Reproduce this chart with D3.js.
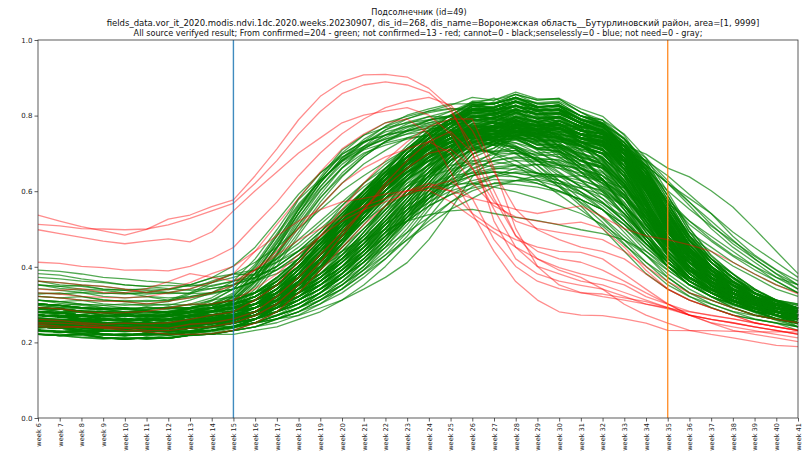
<!DOCTYPE html>
<html>
<head>
<meta charset="utf-8">
<script src="https://cdn.jsdelivr.net/npm/d3@7"></script>
<style>
  body { margin: 0; background: #fff; }
  svg { display: block; }
  text { font-family: "DejaVu Sans", sans-serif; }
</style>
</head>
<body>
<svg id="chart" width="806" height="452"></svg>
<script>
// Week categories along the x axis
const weeks = ["week 6","week 7","week 8","week 9","week 10","week 11","week 12","week 13","week 14","week 15",
  "week 16","week 17","week 18","week 19","week 20","week 21","week 22","week 23","week 24","week 25",
  "week 26","week 27","week 28","week 29","week 30","week 31","week 32","week 33","week 34","week 35",
  "week 36","week 37","week 38","week 39","week 40","week 41"];

const yTickValues = [0, 0.2, 0.4, 0.6, 0.8, 1.0];

const titleLines = [
  "Подсолнечник (id=49)",
  "fields_data.vor_it_2020.modis.ndvi.1dc.2020.weeks.20230907, dis_id=268, dis_name=Воронежская область__Бутурлиновский район, area=[1, 9999]",
  "All source verifyed result; From confirmed=204 - green; not confirmed=13 - red; cannot=0 - black;senselessly=0 - blue; not need=0 - gray;"
];
const titleCenters = [419, 433, 418];
const titleSizes = [8.15, 8.5, 8.15];

// Reference weeks marked with vertical lines
const markerWeeks = ["week 15", "week 35"];
const markerColors = ["#1f77b4", "#ff7f0e"];

// Weekly NDVI per field (values x1000), confirmed fields
const confirmedNdvi = [
[272,265,261,262,258,244,259,268,283,308,362,437,528,611,679,728,762,783,797,798,831,802,815,771,781,738,727,652,548,452,383,341,312,293,279,268],
[291,288,279,273,277,268,276,288,309,342,398,482,578,632,697,731,748,759,766,768,771,742,748,711,705,662,633,563,482,413,362,331,308,291,280,271],
[248,244,237,232,229,236,241,252,268,297,358,447,542,623,688,737,771,792,808,818,818,836,809,812,776,768,719,668,577,482,401,352,318,297,281,263],
[312,303,298,291,287,282,289,301,318,351,407,488,566,628,681,714,738,759,776,787,801,779,783,752,756,719,702,628,538,452,391,352,327,308,293,281],
[281,277,272,266,262,268,273,282,298,327,383,462,551,632,701,748,781,798,812,819,812,809,771,764,718,695,631,561,472,401,352,322,301,289,278,268],
[262,258,253,248,251,243,249,258,272,301,348,421,503,582,648,697,731,752,769,781,792,778,788,759,765,729,712,638,541,442,372,331,302,283,271,262],
[302,298,291,287,289,281,278,291,302,323,372,452,553,638,709,748,768,781,789,798,796,792,763,758,721,706,651,582,492,412,361,332,309,291,279,268],
[243,238,233,229,236,231,228,242,258,288,341,413,492,571,638,691,732,758,781,798,818,809,814,783,774,731,708,621,522,433,371,334,308,288,272,261],
[273,269,268,262,258,263,271,279,292,321,383,468,558,628,678,709,728,741,748,751,748,721,718,684,672,631,606,538,471,412,368,341,318,302,289,281],
[328,331,322,313,308,302,298,312,331,362,421,498,581,648,698,731,749,761,772,778,772,784,761,764,738,731,684,621,532,452,398,361,331,309,292,281],
[251,248,252,243,239,242,251,262,281,312,368,451,532,603,662,711,749,778,797,812,829,818,826,798,794,759,738,658,562,461,391,342,311,289,273,262],
[288,281,279,271,268,273,281,292,302,331,392,472,551,622,683,731,772,801,818,831,831,846,821,818,779,768,712,648,552,452,389,348,322,301,283,271],
[261,257,252,248,251,247,253,262,281,312,373,452,541,622,688,728,757,771,781,788,784,786,752,745,703,689,631,571,492,422,371,338,312,292,281,263],
[278,272,268,271,262,258,268,281,292,318,361,428,511,583,641,692,731,762,788,811,836,832,845,818,815,779,759,678,578,472,398,352,321,298,281,272],
[232,228,223,219,221,224,231,239,252,281,332,402,483,561,621,672,708,741,762,778,781,798,774,776,742,735,681,618,522,428,362,321,292,273,261,249],
[352,343,338,331,328,333,341,352,371,402,452,521,592,648,691,718,738,751,759,763,758,736,738,711,708,671,652,588,512,441,392,358,331,312,298,289],
[271,268,262,258,261,257,263,272,291,321,382,461,541,612,671,712,742,768,787,801,801,818,796,798,772,774,739,688,598,492,421,372,338,312,291,279],
[243,241,238,232,229,234,242,251,263,292,351,432,521,601,661,701,722,738,748,757,762,744,745,713,705,661,633,552,472,401,352,321,298,281,271,259],
[298,292,289,287,281,278,283,292,312,341,402,481,562,628,681,718,748,772,788,797,808,791,798,771,768,731,712,638,548,458,398,361,338,318,301,289],
[262,257,252,249,253,248,259,268,281,308,361,432,512,591,661,718,762,791,812,828,848,841,856,831,824,786,756,678,572,468,398,352,322,298,281,268],
[261,258,252,249,251,247,252,258,263,278,301,332,381,442,508,571,628,681,722,758,771,798,781,788,764,765,728,668,572,468,398,352,328,301,283,271],
[242,239,241,233,229,231,236,241,243,258,281,312,358,421,491,558,621,678,718,748,774,771,788,765,774,749,731,678,588,482,402,348,321,292,271,259],
[272,268,262,258,261,263,268,273,281,292,312,351,402,461,521,578,631,678,718,748,761,784,772,775,739,724,668,598,508,428,381,342,318,301,289,278],
[221,218,222,213,209,212,218,223,228,241,261,298,352,412,481,551,618,681,731,768,798,794,811,791,798,768,748,688,588,481,398,348,321,292,268,251],
[281,278,272,268,273,262,271,278,283,298,322,361,412,468,531,588,638,678,708,728,744,735,739,714,718,691,671,612,531,448,401,361,332,308,291,281],
[255,251,254,246,241,245,249,256,265,274,291,328,381,448,521,591,652,712,758,791,818,814,826,803,805,779,758,708,612,502,421,368,338,308,283,268],
[301,297,292,288,281,283,278,291,298,312,331,368,421,481,538,591,641,681,712,731,748,741,756,731,734,709,692,631,548,462,418,371,341,312,293,281],
[263,261,258,252,249,253,251,262,268,281,302,341,392,452,521,582,641,701,748,788,824,821,838,814,812,779,752,681,581,472,412,362,331,302,283,271],
[231,228,232,223,219,221,226,231,238,251,271,312,362,421,488,552,601,648,688,718,744,745,756,734,735,709,688,638,552,461,402,348,312,288,272,259],
[273,268,271,262,258,262,259,271,278,292,312,351,401,462,531,601,658,708,748,781,791,808,781,778,741,724,671,608,518,432,372,338,312,293,281,271],
[291,289,283,278,281,272,278,283,291,301,322,352,401,462,521,578,628,668,698,718,734,725,728,701,704,681,661,611,538,458,412,371,338,312,298,289],
[249,246,240,236,244,239,246,251,255,266,281,318,372,431,501,572,641,702,752,791,824,831,848,823,824,789,768,708,618,508,428,372,341,308,282,268],
[238,242,233,229,232,228,231,237,243,252,271,302,342,401,462,521,582,638,688,731,768,774,795,784,794,771,758,718,648,548,452,388,348,312,283,262],
[282,278,272,268,272,267,273,281,288,298,321,361,412,471,528,578,621,651,678,698,714,705,708,684,684,652,631,581,521,452,412,371,338,312,292,281],
[265,260,256,251,255,253,250,259,264,275,291,322,371,432,501,572,641,701,751,788,824,825,836,809,804,763,734,658,561,462,391,352,321,298,281,268],
[221,218,213,211,214,209,213,219,224,238,261,292,341,398,458,521,578,628,668,698,724,721,738,714,718,689,671,618,548,458,401,348,311,283,263,249],
[271,268,262,259,263,257,261,258,272,281,301,341,392,452,512,571,621,671,712,751,788,791,815,804,805,779,758,708,621,522,438,381,358,321,298,282],
[298,293,291,283,278,282,279,288,292,308,331,372,421,481,541,598,648,688,718,738,754,744,748,721,714,681,662,598,521,442,388,358,338,318,301,289],
[254,251,246,244,241,245,243,251,256,266,281,312,358,418,481,541,601,658,712,752,794,801,825,814,818,789,771,718,632,521,432,372,341,312,288,271],
[241,238,242,233,231,228,234,238,243,252,272,301,352,412,481,548,612,661,701,731,754,751,768,744,745,719,701,648,568,472,412,361,321,292,272,261],
[263,259,262,252,249,253,248,258,262,271,291,331,382,441,502,561,612,651,681,708,734,735,745,722,724,691,676,618,541,462,401,358,328,302,283,271],
[288,291,282,278,272,269,274,281,283,292,312,352,401,462,532,601,661,712,751,781,808,801,818,791,794,759,746,668,568,472,418,372,342,318,298,282],
[232,228,223,221,218,222,219,228,233,242,261,292,341,402,472,541,612,671,721,758,794,796,805,781,778,741,724,658,562,462,382,332,302,281,262,251],
[272,269,271,262,258,263,259,268,272,281,301,332,371,421,481,541,591,632,668,698,728,724,745,734,738,712,701,658,598,518,441,388,361,328,302,289],
[247,244,249,238,236,240,237,245,249,257,281,312,362,421,492,561,621,672,712,741,764,761,769,741,738,701,684,618,532,442,381,342,312,291,272,261],
[281,278,283,272,268,273,271,279,283,292,312,341,381,431,481,541,601,661,712,751,788,794,815,804,805,779,761,698,604,498,441,392,352,321,298,282],
[238,241,232,229,233,228,231,229,241,252,271,301,342,401,462,531,601,661,721,771,814,821,848,831,834,799,788,708,621,512,421,368,331,302,282,262],
[262,258,253,249,252,248,251,258,263,272,291,321,371,431,491,541,581,612,638,658,674,664,669,645,644,614,603,561,498,438,388,352,321,298,283,271],
[272,269,263,261,258,262,259,271,273,281,301,331,381,441,512,578,641,701,748,781,814,811,828,801,798,761,744,678,582,472,401,358,328,302,288,279],
[312,308,301,298,291,288,293,291,301,311,331,362,401,452,512,571,621,661,698,728,754,751,768,741,745,719,701,638,558,462,412,372,341,318,302,291],
[257,253,247,245,243,246,247,252,257,265,281,308,352,401,462,521,581,641,701,751,794,805,828,811,818,789,772,721,632,528,432,378,342,312,291,272],
[233,228,231,222,218,223,221,228,232,243,261,292,342,401,472,532,591,641,681,711,737,735,745,724,724,699,681,628,548,452,391,342,308,283,262,251],
[281,278,272,269,273,268,271,272,281,291,311,352,401,462,522,581,632,681,721,752,778,774,785,764,765,739,721,661,568,462,412,371,341,312,291,281],
[266,261,255,251,254,250,256,263,265,274,291,321,362,412,471,531,591,652,701,741,778,784,808,791,798,769,752,698,604,492,422,362,322,292,273,262],
[241,243,238,232,229,231,227,238,242,251,272,301,332,381,441,501,561,612,651,681,708,705,715,694,698,671,663,618,548,468,401,351,312,289,272,261],
[292,288,283,281,278,276,281,283,291,302,321,352,401,461,521,581,641,691,741,781,818,821,838,814,814,779,752,678,578,472,412,368,338,312,298,289],
[271,268,263,258,261,262,258,268,271,283,301,331,372,421,471,531,591,641,691,731,768,771,788,771,778,749,734,681,598,502,441,391,352,321,301,289],
[251,253,248,242,239,243,238,248,251,262,281,312,361,421,482,551,612,661,701,728,748,741,748,724,718,681,666,598,512,432,372,338,312,291,272,262],
[222,219,223,212,209,213,211,219,222,232,252,281,321,371,431,491,551,612,662,712,754,764,788,771,778,749,728,668,578,472,392,342,302,279,258,241],
[263,258,261,251,248,252,249,258,262,271,291,322,372,432,501,572,641,701,752,791,828,831,848,825,824,789,776,698,612,492,411,362,328,302,283,271],
[281,272,268,273,262,258,268,272,282,291,301,331,372,421,481,541,601,651,691,718,744,741,758,741,745,722,711,668,602,521,448,398,371,331,308,289],
[241,238,233,229,233,228,231,238,242,251,272,302,351,412,481,551,612,661,701,731,758,751,759,734,728,694,672,612,528,442,381,341,312,288,272,252],
[302,298,292,291,288,293,289,292,301,311,332,362,412,471,531,591,641,681,718,748,774,771,788,771,775,749,731,678,598,501,428,381,358,331,312,298],
[259,255,250,246,249,244,248,255,258,268,291,322,362,412,471,531,582,631,671,701,728,724,735,714,714,681,666,611,532,452,391,352,322,301,283,271],
[232,231,228,222,219,223,221,228,232,241,261,291,331,392,462,531,601,661,712,751,788,794,815,804,808,779,761,701,608,498,408,362,321,292,272,251],
[271,273,268,262,258,263,261,268,272,281,301,331,381,441,501,562,612,651,681,701,718,701,708,681,676,641,623,568,501,438,392,358,331,308,291,281],
[248,244,239,237,235,238,236,244,249,258,281,312,352,412,472,541,601,661,712,758,804,814,835,824,824,789,776,698,611,502,421,362,328,301,281,262],
[288,283,281,278,272,269,272,281,283,291,312,341,381,441,501,561,621,672,712,741,768,764,779,761,768,739,721,668,588,492,432,381,351,322,302,291],
[241,238,242,233,229,232,231,238,243,252,271,298,341,392,451,512,572,631,681,721,758,764,785,774,785,762,751,708,638,538,442,381,342,308,283,262],
[272,268,263,261,258,262,259,268,273,282,301,332,381,441,512,581,641,691,731,762,788,784,795,771,768,731,713,648,558,462,398,358,328,302,288,279],
[243,241,233,231,228,232,229,231,241,252,261,281,302,331,372,421,482,551,621,691,748,764,795,784,788,762,751,698,618,501,422,362,321,291,272,261],
[261,258,252,248,251,253,249,252,258,263,272,291,312,341,382,431,491,561,631,701,758,774,805,794,798,772,761,718,638,518,428,382,341,312,291,272],
[232,228,223,219,222,218,221,223,231,241,252,271,292,321,361,412,472,541,612,681,738,754,785,774,785,762,751,711,638,528,438,372,332,302,281,262],
[281,278,272,268,273,269,271,272,281,283,292,312,331,362,401,452,512,572,632,691,738,751,775,764,775,749,741,698,628,521,441,384,352,322,302,283],
[250,247,241,239,236,240,238,243,248,255,262,281,302,331,361,401,452,512,581,651,718,745,778,774,785,762,751,711,652,548,458,392,352,318,292,272],
[271,268,263,258,262,257,261,258,272,271,281,302,321,352,391,441,501,571,641,701,758,774,798,781,788,762,741,688,608,501,431,372,332,308,291,281],
[221,218,213,209,212,208,213,219,222,231,241,261,281,312,352,401,461,531,601,671,728,751,788,784,795,772,761,721,648,538,448,382,341,302,281,262],
[302,298,292,288,291,283,281,279,291,293,301,322,341,372,412,461,521,581,641,691,738,744,768,751,758,732,721,678,608,512,428,392,352,321,302,291],
[241,238,243,232,229,233,231,228,241,243,252,271,292,321,352,392,441,501,571,641,708,734,768,764,779,759,754,718,658,558,468,401,361,321,292,272],
[264,260,255,252,256,251,253,261,266,270,281,301,321,352,392,441,501,571,641,712,768,784,815,804,805,779,761,708,624,508,431,372,331,302,283,271],
[251,249,253,241,238,243,239,241,252,251,262,281,312,352,401,461,521,581,641,691,738,745,768,751,768,739,731,688,628,541,458,398,352,318,292,272],
[232,228,231,222,218,223,219,221,232,241,251,262,271,291,312,341,372,411,472,551,638,691,748,751,768,742,734,688,628,531,452,382,332,302,281,262],
[272,268,263,259,262,258,263,272,271,282,291,311,342,381,432,491,561,631,691,741,788,794,815,804,805,779,761,708,618,502,431,372,332,308,291,281],
[291,288,282,278,271,272,268,281,283,292,301,322,341,372,412,461,521,581,641,701,748,761,788,771,778,752,741,698,628,531,448,401,358,331,308,291],
[241,243,232,229,233,228,231,229,241,243,252,272,291,321,361,412,472,541,612,672,728,744,775,764,775,752,745,708,658,568,472,401,352,311,283,262],
[262,258,263,252,249,253,248,251,262,258,272,291,322,362,412,472,531,601,661,712,758,764,788,771,778,749,741,688,604,501,431,372,331,302,283,271],
[222,218,221,213,209,212,211,219,222,221,232,241,261,281,312,352,401,461,531,601,668,705,748,751,768,749,744,698,638,542,452,392,341,302,272,252],
[283,278,272,269,273,268,272,269,281,283,292,308,331,362,401,452,501,562,621,681,728,741,768,751,768,742,731,688,628,541,458,412,361,331,301,289],
[253,250,246,243,240,245,242,250,255,259,272,291,312,341,381,432,491,551,621,681,738,751,778,761,768,739,731,678,598,492,421,362,321,302,281,262],
[234,229,226,221,224,221,225,230,233,242,251,272,301,342,392,451,521,591,651,712,758,774,798,781,788,759,751,698,618,511,431,372,322,292,271,252],
[272,268,273,262,258,263,259,261,272,271,281,292,312,341,372,412,462,521,581,641,698,724,759,754,765,742,734,698,652,561,468,412,362,331,301,281],
[241,238,243,232,229,233,229,238,243,251,262,281,312,352,401,462,531,601,672,731,778,791,815,804,808,782,764,708,618,502,431,372,332,302,281,262],
[302,298,301,292,288,293,289,291,298,303,312,331,352,381,421,472,531,591,651,701,748,754,778,761,769,742,731,681,608,512,438,392,352,328,308,291],
[262,258,252,249,253,248,251,249,262,258,272,281,301,331,372,421,481,551,621,681,738,754,785,774,785,762,751,708,638,541,448,392,342,312,291,272],
[229,226,229,220,217,221,219,226,230,239,252,271,291,331,382,441,512,581,652,712,764,784,808,791,798,769,761,711,628,521,441,382,331,302,272,252],
[272,268,262,258,261,257,263,259,272,271,281,302,322,352,392,432,481,541,601,661,714,734,768,761,778,759,751,718,668,588,501,428,382,342,308,283],
[251,248,253,241,238,242,239,241,252,249,262,272,291,312,341,382,431,491,561,631,698,724,765,761,778,752,741,698,638,541,448,392,342,312,291,272],
[281,278,272,269,273,268,272,281,283,291,301,312,331,362,401,452,512,581,651,712,764,781,808,791,795,772,754,698,604,498,441,391,352,322,301,289],
[241,238,232,229,233,228,231,229,241,238,251,262,281,302,331,372,421,481,551,621,688,714,755,754,765,752,744,708,658,568,478,401,352,312,283,262],
[262,259,263,252,249,253,248,258,262,271,282,301,331,372,421,482,551,612,671,721,758,761,779,761,768,739,724,668,588,492,431,372,331,302,283,271],
[221,218,222,213,209,212,211,219,222,231,241,252,272,302,342,392,452,521,591,661,718,741,778,774,785,762,751,711,648,548,458,392,341,302,272,252],
[292,288,283,281,278,282,279,283,291,289,302,322,352,392,441,501,561,621,671,712,748,751,775,764,768,742,734,688,618,521,448,402,361,331,308,291],
[256,252,248,245,243,247,244,251,257,263,271,282,312,341,382,431,491,561,631,691,748,764,795,784,795,772,761,718,648,548,458,398,352,318,292,272],
[232,228,233,222,219,223,221,228,232,241,252,262,281,312,352,401,462,531,601,661,714,731,758,745,755,732,724,678,621,531,462,391,341,302,281,262],
[272,268,273,262,258,263,259,268,272,281,291,312,342,382,431,481,541,601,661,712,758,764,788,771,778,752,741,698,638,551,468,421,368,331,302,283],
[241,238,243,232,229,232,228,238,243,251,262,281,302,331,372,421,471,531,591,641,698,714,748,744,755,729,721,681,628,541,472,401,352,312,283,262],
[262,258,252,249,253,248,251,249,262,263,272,291,321,362,421,491,561,631,691,741,788,794,819,801,808,779,761,708,618,502,431,372,331,302,283,271],
[281,278,283,272,268,273,269,278,281,289,301,312,331,352,382,421,472,531,591,651,708,724,758,754,765,742,734,692,631,541,468,421,372,338,312,291],
[222,218,221,212,209,213,211,218,222,231,241,262,291,331,381,441,501,571,631,691,748,764,795,784,795,772,754,698,608,492,412,352,312,283,262,241],
[251,248,252,241,238,242,239,248,251,262,272,291,312,342,372,412,462,521,581,641,698,724,759,754,765,752,741,698,648,558,468,412,362,322,292,272],
[281,278,272,269,273,271,282,278,283,292,312,331,361,402,441,481,521,561,601,631,648,661,658,648,638,621,598,561,501,441,382,342,312,292,281,272],
[261,258,252,249,253,248,251,258,262,272,281,302,331,362,401,441,491,531,571,611,641,658,668,671,661,648,628,591,531,462,401,352,321,302,283,271],
[302,298,291,288,292,287,293,301,298,312,331,352,381,412,441,471,498,521,538,548,552,541,531,522,511,498,488,471,441,401,368,341,318,302,291,281],
[241,238,243,232,229,233,231,238,242,252,262,281,302,331,372,412,451,491,531,571,601,621,628,631,621,608,591,561,508,452,392,352,318,292,273,262],
[272,268,263,259,262,258,261,272,268,281,292,312,341,372,412,451,491,531,571,601,618,631,628,621,601,578,551,501,452,401,361,332,308,292,281,271],
[252,248,251,241,238,243,239,248,252,262,272,292,321,362,412,461,511,561,601,641,671,688,701,698,691,678,661,621,561,481,412,362,331,302,283,271],
[291,288,283,281,278,283,279,288,291,302,312,331,352,381,421,461,501,541,581,621,651,671,681,678,671,658,641,608,552,481,421,372,342,318,301,291],
[232,228,231,222,219,223,221,228,232,241,252,271,291,321,352,391,431,471,512,552,581,612,628,641,638,641,628,608,561,492,421,372,331,302,281,262],
[262,258,252,249,253,248,251,258,262,271,281,302,332,372,421,471,521,571,612,651,678,698,701,688,668,641,608,561,501,441,391,352,321,302,283,271],
[311,308,301,298,302,297,301,298,312,321,332,351,372,401,432,471,512,551,581,611,628,641,638,628,612,591,568,532,481,432,381,352,331,312,302,291],
[241,243,238,232,229,233,231,238,242,251,262,281,312,342,382,431,481,531,581,621,658,681,691,688,681,668,648,612,552,481,412,362,322,301,281,262],
[272,269,273,262,258,263,261,268,272,281,292,312,331,362,401,441,481,521,561,591,621,638,651,648,641,628,612,581,531,472,412,372,341,312,291,281],
[252,248,243,241,238,242,239,248,252,261,272,292,321,352,392,441,491,541,591,628,661,681,688,681,661,628,591,541,481,421,372,341,312,292,271,262],
[281,278,272,269,273,268,272,281,283,292,301,322,352,381,421,461,512,551,591,621,641,651,648,638,621,598,568,521,471,421,372,342,321,302,291,281],
[221,222,218,212,209,213,211,219,222,231,241,262,281,312,341,381,421,472,521,571,612,641,661,671,668,661,641,601,541,472,401,352,312,283,262,251],
[262,258,261,252,249,253,248,258,262,271,281,301,321,352,391,432,481,521,561,591,608,621,618,611,598,578,551,512,461,412,372,342,312,292,281,271],
[291,288,283,281,278,282,279,283,292,302,321,352,391,441,491,541,581,621,648,668,681,678,668,648,628,598,561,512,452,401,362,331,312,302,291,281],
[241,238,232,229,233,228,231,238,242,251,262,281,312,352,401,451,501,551,591,621,641,651,648,641,628,608,581,541,481,421,372,331,302,283,272,252],
[272,268,262,258,262,257,261,268,272,283,301,331,372,421,471,521,561,591,608,618,621,611,598,581,561,541,512,471,431,391,352,331,308,291,281,271],
[258,254,259,247,244,249,245,254,258,268,281,312,351,401,452,501,551,591,618,641,648,651,638,621,601,578,551,512,461,412,372,338,312,292,272,262],
[382,378,368,361,352,348,342,338,343,352,372,401,442,492,542,591,641,681,718,748,768,781,778,771,758,741,718,658,572,472,402,362,331,312,298,289],
[391,388,381,372,368,362,358,352,348,362,382,421,472,521,571,621,661,701,728,748,758,761,752,741,731,718,698,641,561,472,412,372,341,321,308,298],
[362,358,352,348,341,338,332,329,331,341,362,392,432,481,531,581,631,671,712,741,768,788,791,781,768,751,728,678,592,492,421,372,342,318,302,291],
[352,348,351,341,338,332,329,331,342,352,371,401,441,481,531,581,621,661,701,731,751,761,758,748,741,728,708,661,578,482,412,372,338,318,302,291],
[372,368,362,358,352,348,351,348,358,372,391,421,462,512,562,612,652,691,718,741,748,752,741,728,718,701,678,621,541,452,392,352,328,312,298,291],
[342,338,332,329,331,322,318,321,331,341,362,392,431,472,521,571,621,661,701,728,748,758,761,751,738,718,698,648,568,472,401,361,331,308,291,281],
[331,328,332,322,318,321,312,321,332,352,381,412,452,501,551,601,641,681,712,738,758,768,771,761,748,731,708,658,578,482,412,372,341,318,301,289],
[352,348,341,338,331,328,332,341,362,381,412,452,501,551,601,641,678,712,738,758,768,772,761,748,738,718,688,628,548,462,401,362,331,312,298,289],
[322,318,321,312,308,311,309,318,328,341,362,382,412,452,501,551,601,648,688,721,748,768,772,768,758,748,728,688,612,512,431,382,348,321,301,289],
[362,352,348,341,338,342,339,352,371,381,392,412,442,472,512,551,591,631,668,701,728,748,758,761,751,738,718,678,601,501,432,382,352,328,312,301],
[322,318,312,309,311,308,312,331,358,381,378,392,421,461,512,561,612,658,701,728,748,758,761,751,741,728,708,668,601,512,441,392,352,331,312,302],
[312,308,311,302,298,301,308,328,351,362,372,401,442,492,548,601,648,688,721,748,761,768,771,758,741,721,698,648,568,482,412,372,341,318,301,291],
[272,268,262,258,261,257,263,272,271,283,301,332,372,421,481,541,601,661,708,738,758,768,772,771,761,751,738,721,698,661,638,601,558,501,441,382],
[291,288,283,281,278,283,279,281,292,302,322,352,391,441,501,561,621,671,712,741,761,771,768,761,751,741,728,708,668,621,581,541,492,451,412,372],
[262,258,252,249,253,248,251,258,262,271,291,322,362,412,471,531,591,641,691,721,741,751,752,748,741,731,718,698,658,601,552,508,468,428,391,352],
[252,248,253,241,238,242,239,248,252,262,272,301,331,372,421,481,541,601,651,691,721,741,748,751,748,741,728,698,641,572,512,468,428,392,362,331],
[281,278,272,269,273,268,272,271,281,291,302,331,372,421,481,541,601,651,698,728,751,761,758,751,741,728,708,678,621,552,491,452,412,381,352,331],
[241,238,232,229,233,228,231,238,242,252,272,291,321,362,412,471,531,591,641,681,708,731,741,738,731,718,701,668,612,541,481,441,402,372,341,322],
[272,268,271,262,258,263,259,268,272,281,292,312,342,382,431,491,551,612,661,701,731,748,758,761,758,751,741,718,681,621,562,501,452,412,372,341],
[302,298,292,288,291,283,282,291,302,312,331,362,401,452,501,551,601,641,681,708,728,741,738,731,721,712,701,678,638,578,521,472,431,401,372,352],
[262,258,261,252,249,253,248,258,262,271,281,302,331,372,421,471,531,591,641,681,712,731,741,738,731,721,708,681,628,568,521,481,441,401,362,331],
[252,248,243,241,238,243,239,248,252,262,281,312,352,401,462,521,581,631,681,721,752,771,778,781,771,761,751,728,688,628,571,512,461,421,382,352],
[272,268,262,258,262,257,261,272,271,281,292,321,362,412,471,531,591,641,681,712,731,741,748,751,741,731,721,701,668,621,571,521,471,421,381,341],
[281,278,273,268,272,267,271,281,283,292,312,341,381,431,491,551,612,661,701,731,748,758,761,758,751,741,728,708,681,641,591,541,481,431,392,362],
[262,258,252,249,253,251,259,262,271,283,312,352,401,461,521,581,641,691,728,748,752,731,701,658,612,561,501,441,382,341,312,292,272,261,252,241],
[281,278,272,268,273,269,272,281,291,302,331,372,421,481,541,601,651,691,718,731,721,698,668,631,591,551,508,458,412,372,331,312,291,272,261,252],
[241,238,243,232,229,233,231,238,252,262,291,332,392,452,512,572,621,671,712,738,748,741,718,681,628,578,528,471,412,361,322,292,272,261,251,241],
[272,268,263,258,262,257,261,272,281,292,321,362,421,491,561,621,671,712,741,758,761,741,712,668,618,568,518,461,401,352,321,301,282,271,262,252],
[252,248,253,241,238,242,239,248,262,272,301,342,392,452,512,571,621,661,698,718,728,721,698,668,628,591,551,501,441,392,352,321,292,272,261,252],
[292,288,283,281,278,282,279,283,292,302,321,362,412,472,531,591,641,681,712,731,741,731,712,681,648,611,571,521,461,402,352,322,301,282,272,262],
[232,228,231,222,219,223,221,228,242,251,281,321,382,441,501,561,612,661,701,728,741,731,712,681,641,598,552,491,431,372,331,302,281,262,251,232],
[262,258,263,252,249,253,248,258,271,281,312,352,401,461,521,571,621,661,691,708,712,701,681,648,612,571,531,481,431,381,341,312,291,272,261,252],
[272,268,262,258,262,257,261,272,271,283,301,342,392,452,521,591,651,712,758,788,808,811,791,758,718,668,618,551,472,401,352,322,301,282,272,262],
[246,243,239,236,234,238,236,243,248,257,281,321,372,432,501,571,631,691,741,778,798,801,781,748,708,661,612,551,481,412,362,331,302,283,272,262],
[281,278,283,272,268,273,269,278,282,291,312,352,401,462,521,581,641,691,731,758,778,781,768,741,701,651,598,532,461,401,362,331,312,292,281,272],
[241,238,232,229,233,228,231,238,243,252,272,312,362,432,501,572,641,701,752,791,812,818,808,781,741,688,628,561,482,412,362,331,302,283,262,252],
[302,298,292,288,291,287,293,291,302,312,331,372,421,481,541,601,651,691,721,748,761,758,741,708,668,628,581,521,461,412,372,342,321,302,291,281],
[259,256,249,246,250,244,248,254,259,269,291,331,382,441,512,581,641,691,738,771,788,791,781,761,728,688,641,581,501,432,372,342,312,292,272,262],
[232,228,231,222,219,223,221,228,232,241,262,301,352,412,481,551,621,681,731,771,798,808,801,781,748,708,658,591,512,432,372,331,302,283,262,252],
[272,268,273,262,258,263,259,268,272,281,302,332,382,441,501,561,621,671,712,741,758,761,748,728,698,661,621,561,491,421,372,342,312,292,281,272],
[255,251,256,244,241,245,242,251,256,265,281,312,362,421,491,561,621,681,721,752,768,771,758,741,708,671,631,581,512,441,382,342,312,292,272,262],
[291,281,283,278,272,269,273,281,283,292,312,341,392,452,512,571,631,681,721,752,768,771,758,741,712,681,641,591,521,452,401,362,331,312,292,281],
[241,238,242,232,229,233,231,238,243,252,272,302,352,412,481,551,621,681,721,752,768,771,758,731,691,651,601,541,472,412,362,331,302,282,272,251],
[262,258,261,252,249,253,248,258,262,272,291,322,372,431,491,551,612,661,701,731,742,738,721,691,651,612,571,521,462,412,372,342,312,292,281,271],
[281,278,272,269,273,268,272,281,283,292,301,331,372,431,491,561,621,671,712,741,761,771,768,758,741,721,688,641,571,491,421,372,341,312,292,281],
[249,245,241,238,235,239,237,246,250,259,281,312,352,412,481,551,612,661,701,731,741,738,728,712,688,661,628,588,528,462,401,358,322,302,281,262],
[272,268,271,262,258,263,259,268,272,281,302,342,392,462,531,601,661,712,752,781,798,801,788,771,748,721,688,641,571,492,421,381,341,318,302,283],
[232,228,223,219,222,218,223,228,232,243,262,291,341,401,471,541,601,651,691,721,741,751,748,738,721,698,671,628,568,492,421,372,331,302,272,252],
[302,298,292,288,281,283,278,291,292,301,321,352,401,461,521,581,631,671,701,721,731,728,718,701,678,651,621,581,521,461,401,362,341,318,302,291],
[262,258,252,249,253,248,251,258,262,271,291,322,372,432,501,572,641,701,752,791,828,831,856,841,844,809,778,718,621,508,428,372,341,312,291,272],
[241,238,243,232,229,233,231,238,242,251,272,302,342,401,471,541,612,672,728,771,814,821,845,834,838,809,788,738,658,538,448,382,342,308,283,262],
[281,278,272,269,273,268,272,278,283,292,312,341,392,452,521,591,651,712,761,801,838,841,862,844,844,809,781,708,631,521,432,381,341,318,298,282],
[253,249,254,242,239,244,240,249,253,263,281,312,352,412,481,551,621,681,738,781,818,821,838,821,828,799,778,728,648,538,448,392,351,318,292,272],
[272,268,262,258,262,257,261,268,272,281,301,332,381,441,512,581,641,701,752,791,828,831,848,831,834,799,774,708,641,521,432,372,331,302,283,271],
[232,228,231,222,219,223,221,228,232,241,261,292,331,392,462,531,601,671,728,781,824,834,856,841,846,818,798,748,662,548,448,392,341,302,281,252],
[291,288,283,281,278,283,279,281,292,302,321,352,401,461,521,581,641,691,738,781,814,814,825,814,814,789,768,718,638,528,448,401,362,331,308,291],
[260,256,250,247,251,246,249,256,260,270,291,322,372,432,491,561,631,691,741,781,814,814,835,811,814,789,771,728,658,558,468,401,362,321,292,272],
[241,238,242,232,229,233,231,238,243,252,272,302,352,421,491,561,631,691,741,781,814,821,838,814,814,782,761,698,628,521,432,372,331,302,281,262],
[281,278,272,269,273,268,271,272,283,291,302,331,372,432,491,551,612,671,721,771,808,814,838,821,828,799,781,738,668,568,478,412,372,338,312,291],
[251,247,242,240,237,241,238,247,251,261,281,312,362,421,481,551,621,681,731,771,808,805,825,814,818,792,778,738,678,588,492,421,372,331,301,272],
[272,268,273,262,258,263,259,268,272,281,301,332,372,432,501,571,641,701,752,788,818,814,825,805,808,782,761,721,658,568,482,421,381,341,312,291],
[222,218,221,212,209,213,211,219,222,232,252,281,332,391,461,531,601,671,721,761,798,805,825,814,818,789,771,721,638,531,438,382,331,292,272,241],
[263,259,262,253,250,254,249,259,263,272,292,322,372,432,501,571,631,691,741,781,818,821,838,821,828,799,781,741,678,588,492,421,372,331,302,272],
[292,288,283,281,278,282,279,283,291,302,312,342,381,441,501,571,631,691,741,778,814,814,825,805,808,782,758,701,628,521,441,391,352,321,302,291],
[241,238,232,229,233,228,231,238,242,251,272,302,342,401,462,531,601,661,712,761,798,805,825,814,825,799,788,751,688,598,502,431,381,331,292,262],
[272,268,262,258,262,257,261,268,272,283,301,332,381,441,512,581,651,712,761,801,834,831,848,824,824,789,764,701,621,512,432,372,331,308,291,281],
[254,250,255,243,240,245,241,250,254,264,281,312,352,412,481,551,612,671,721,761,798,794,809,794,805,782,768,728,668,578,482,412,372,331,302,272],
[281,278,272,269,273,268,272,281,283,292,312,352,401,462,531,601,661,721,771,801,834,831,848,821,814,779,752,688,601,502,421,372,341,312,291,281],
[232,228,231,222,219,223,221,228,232,241,262,291,342,401,472,541,612,671,721,761,798,794,815,804,815,789,778,738,674,578,482,412,362,321,283,252],
[261,257,251,248,252,247,250,257,261,271,291,322,362,421,491,561,621,681,731,771,808,811,828,811,818,789,771,728,664,568,472,412,372,331,302,272],
[292,288,283,281,278,272,274,281,291,302,321,352,401,461,521,581,641,691,741,781,808,805,818,794,798,772,758,721,658,568,482,421,381,341,312,291],
[241,238,242,232,229,233,231,238,243,252,272,302,352,412,481,551,621,681,741,781,818,821,838,814,814,779,754,688,612,502,421,362,321,292,272,252],
[272,268,273,262,258,263,259,268,272,281,301,332,381,441,512,581,641,701,752,791,824,824,839,821,828,799,778,731,648,548,458,401,352,321,302,283],
[250,246,241,239,236,240,237,246,250,260,281,312,352,412,471,541,612,671,721,771,808,814,835,824,828,792,771,721,648,548,458,401,352,312,292,262]
];

// Weekly NDVI per field (values x1000), fields not confirmed
const notConfirmedNdvi = [
[537,521,506,495,484,499,526,537,559,577,641,712,789,851,889,908,909,902,872,821,701,521,421,381,362,351,341,322,301,289,272,261,251,241,232,221],
[512,508,501,500,498,500,511,528,548,568,621,681,751,811,858,881,889,881,861,812,721,601,482,421,398,381,368,352,321,301,282,271,262,251,242,231],
[498,488,478,468,461,468,474,466,492,548,601,651,701,741,781,801,812,821,801,752,661,552,452,401,381,362,352,332,312,292,272,261,252,241,232,222],
[412,409,401,398,391,392,389,401,422,451,512,571,641,701,752,791,821,838,848,828,761,651,552,498,472,452,441,421,381,341,312,291,272,252,241,231],
[362,358,352,348,341,332,341,358,382,401,441,482,521,551,572,581,592,601,612,601,581,568,552,541,551,561,532,501,482,472,458,441,412,381,352,328],
[331,328,322,319,318,321,331,342,358,382,441,512,581,651,712,751,781,791,752,651,541,441,361,312,281,272,271,262,251,232,231,231,229,228,228,228],
[252,251,248,242,239,241,238,248,252,262,281,322,372,432,492,551,612,661,701,712,661,572,521,501,491,482,472,441,401,361,331,312,291,272,261,252],
[292,289,281,278,279,282,291,301,302,312,342,381,432,481,521,551,572,591,612,628,581,472,401,362,342,331,328,318,308,292,272,261,252,241,231,222],
[248,243,241,239,238,232,231,238,242,252,271,302,352,412,481,551,621,681,731,758,701,581,482,441,421,412,391,362,331,302,272,252,241,231,221,212],
[322,318,312,309,308,302,309,318,331,351,392,431,471,501,531,561,581,601,621,601,541,501,472,452,441,438,421,381,341,302,272,251,232,221,212,202],
[341,338,342,332,331,342,361,382,372,362,392,441,502,561,621,661,691,712,731,701,621,561,532,521,512,518,501,452,391,341,312,291,272,252,241,232],
[261,258,252,248,251,249,252,261,272,281,312,352,412,481,551,621,681,731,771,791,791,661,501,401,352,332,321,312,301,291,281,272,262,252,241,232],
[242,239,241,238,232,228,222,221,223,232,251,281,331,391,451,511,561,601,602,572,531,491,452,421,391,372,341,301,272,251,232,221,212,202,192,189]
];

const svg = d3.select("#chart");
const plot = { left: 38, right: 798, top: 40, bottom: 418 };

const x = d3.scalePoint().domain(weeks).range([plot.left, plot.right]);
const y = d3.scaleLinear().domain([0, 1]).range([plot.bottom, plot.top]);

const line = d3.line()
  .x((d, i) => x(weeks[i]))
  .y(d => y(d / 1000));

// Title block
svg.append("g").attr("fill", "#111")
  .selectAll("text").data(titleLines).join("text")
  .attr("x", (d, i) => titleCenters[i])
  .attr("y", (d, i) => 15 + i * 10.7)
  .attr("font-size", (d, i) => titleSizes[i] + "px")
  .attr("text-anchor", "middle")
  .text(d => d);

// Series lines: confirmed fields first, unconfirmed on top
const lines = svg.append("g").attr("fill", "none").attr("stroke-linejoin", "round");
lines.selectAll("path.ok").data(confirmedNdvi).join("path")
  .attr("class", "ok")
  .attr("d", line)
  .attr("stroke", "#008000")
  .attr("stroke-opacity", 0.68)
  .attr("stroke-width", 1.3);
lines.selectAll("path.bad").data(notConfirmedNdvi).join("path")
  .attr("class", "bad")
  .attr("d", line)
  .attr("stroke", "#ff0000")
  .attr("stroke-opacity", 0.45)
  .attr("stroke-width", 1.3);

// Vertical week markers
svg.append("g").selectAll("line").data(markerWeeks).join("line")
  .attr("x1", d => x(d)).attr("x2", d => x(d))
  .attr("y1", plot.top).attr("y2", plot.bottom)
  .attr("stroke", (d, i) => markerColors[i])
  .attr("stroke-opacity", 0.85)
  .attr("stroke-width", 1.4);

// Axes
const axisColor = "#333";
const xAxis = svg.append("g")
  .attr("transform", `translate(0,${plot.bottom})`)
  .call(d3.axisBottom(x).tickSize(3.5).tickSizeOuter(0));
xAxis.selectAll("text")
  .attr("transform", "rotate(-90)")
  .attr("text-anchor", "end")
  .attr("x", -5).attr("y", 0).attr("dy", "0.35em")
  .attr("font-size", "6.6px");

const yAxis = svg.append("g")
  .attr("transform", `translate(${plot.left},0)`)
  .call(d3.axisLeft(y).tickValues(yTickValues).tickFormat(d3.format(".1f")).tickSize(3.5).tickPadding(2).tickSizeOuter(0));
yAxis.selectAll("text").attr("font-size", "7px");

[xAxis, yAxis].forEach(a => {
  a.attr("font-family", null);
  a.selectAll("text").attr("fill", "#222");
  a.selectAll("line").attr("stroke", axisColor).attr("stroke-width", 0.8);
  a.select(".domain").remove();
});

// Plot frame
svg.append("rect")
  .attr("x", plot.left).attr("y", plot.top)
  .attr("width", plot.right - plot.left).attr("height", plot.bottom - plot.top)
  .attr("fill", "none").attr("stroke", axisColor).attr("stroke-width", 0.8);
</script>
</body>
</html>
